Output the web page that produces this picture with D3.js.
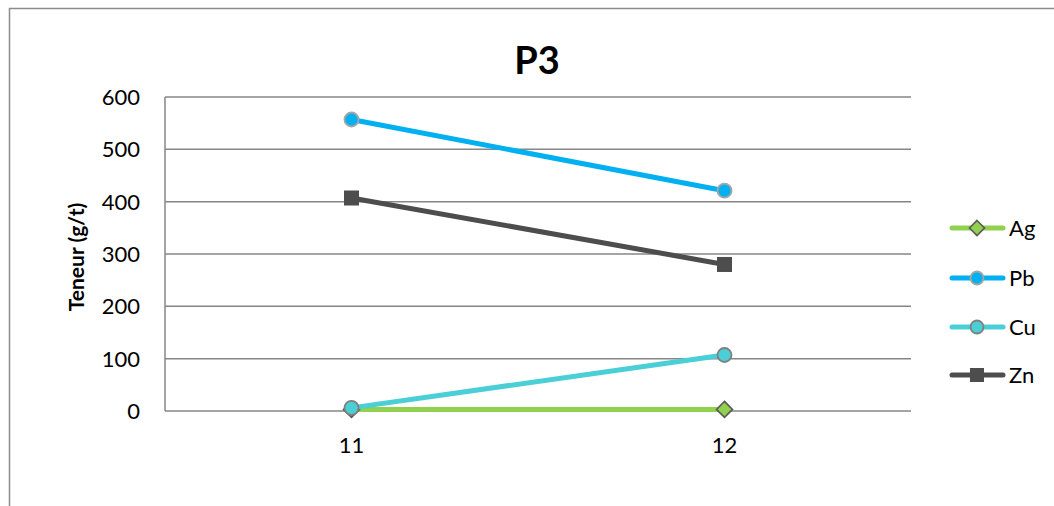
<!DOCTYPE html>
<html>
<head>
<meta charset="utf-8">
<script src="https://cdn.jsdelivr.net/npm/d3@7"></script>
<style>
  html, body { margin: 0; padding: 0; background: #fff; }
  svg { display: block; font-family: Lato, "Open Sans", sans-serif; }
</style>
</head>
<body>
<svg id="chart" width="1054" height="506"></svg>
<script>
// Sample depths (categories) and element grades in g/t
const categories = ["11", "12"];
const agValues = [3, 3];
const pbValues = [557, 421];
const cuValues = [6, 107];
const znValues = [407, 280];
const yTicks = [0, 100, 200, 300, 400, 500, 600];
const seriesNames = ["Ag", "Pb", "Cu", "Zn"];

const series = [
  { name: seriesNames[0], values: agValues, color: "#92D050", marker: "diamond", fill: "#92D050", stroke: "#595959" },
  { name: seriesNames[1], values: pbValues, color: "#00B0F0", marker: "circle", fill: "#00B0F0", stroke: "#A6A6A6" },
  { name: seriesNames[2], values: cuValues, color: "#4BCFD6", marker: "circle", fill: "#4BCFD6", stroke: "#808080" },
  { name: seriesNames[3], values: znValues, color: "#4D4D4D", marker: "square", fill: "#4D4D4D", stroke: "#4D4D4D" }
];

const svg = d3.select("#chart");

// Outer chart frame
svg.append("rect")
  .attr("x", 9.5).attr("y", 8.5)
  .attr("width", 1100).attr("height", 600)
  .attr("fill", "#fff").attr("stroke", "#8C8C8C").attr("stroke-width", 1.5);

const plot = { left: 165, right: 911, top: 97, bottom: 411 };

const x = d3.scaleBand().domain(categories).range([plot.left, plot.right]);
const y = d3.scaleLinear().domain([0, 600]).range([plot.bottom, plot.top]);

// Horizontal gridlines
svg.append("g")
  .selectAll("line")
  .data(yTicks)
  .join("line")
  .attr("x1", plot.left).attr("x2", plot.right)
  .attr("y1", d => y(d)).attr("y2", d => y(d))
  .attr("stroke", "#868686").attr("stroke-width", 1.5);

// Y axis line
svg.append("line")
  .attr("x1", plot.left).attr("x2", plot.left)
  .attr("y1", plot.top).attr("y2", plot.bottom)
  .attr("stroke", "#868686").attr("stroke-width", 1.5);

// Y tick labels
svg.append("g")
  .selectAll("text")
  .data(yTicks)
  .join("text")
  .attr("x", plot.left - 25).attr("y", d => y(d))
  .attr("dy", "0.36em")
  .attr("text-anchor", "end")
  .attr("font-size", 22)
  .attr("fill", "#000")
  .text(d => d);

// X tick labels
svg.append("g")
  .selectAll("text")
  .data(categories)
  .join("text")
  .attr("x", d => x(d) + x.bandwidth() / 2)
  .attr("y", plot.bottom + 42)
  .attr("text-anchor", "middle")
  .attr("font-size", 22)
  .attr("fill", "#000")
  .text(d => d);

// Y axis title
svg.append("text")
  .attr("transform", `translate(84,${(plot.top + plot.bottom) / 2 + 3}) rotate(-90)`)
  .attr("text-anchor", "middle")
  .attr("font-size", 21)
  .attr("font-weight", "bold")
  .text("Teneur (g/t)");

// Chart title
svg.append("text")
  .attr("x", 537).attr("y", 74)
  .attr("text-anchor", "middle")
  .attr("font-size", 38)
  .attr("font-weight", "bold")
  .text("P3");

function drawMarker(g, type, cx, cy, s, size) {
  if (type === "circle") {
    g.append("circle").attr("cx", cx).attr("cy", cy).attr("r", size)
      .attr("fill", s.fill).attr("stroke", s.stroke).attr("stroke-width", 1.8);
  } else if (type === "square") {
    g.append("rect").attr("x", cx - size).attr("y", cy - size)
      .attr("width", size * 2).attr("height", size * 2)
      .attr("fill", s.fill).attr("stroke", s.stroke);
  } else {
    const d = size + 1;
    g.append("path")
      .attr("d", `M${cx},${cy - d}L${cx + d},${cy}L${cx},${cy + d}L${cx - d},${cy}Z`)
      .attr("fill", s.fill).attr("stroke", s.stroke).attr("stroke-width", 1.6);
  }
}

const line = d3.line()
  .x((d, i) => x(categories[i]) + x.bandwidth() / 2)
  .y(d => y(d));

// Series lines and markers
series.forEach(s => {
  const g = svg.append("g");
  g.append("path")
    .datum(s.values)
    .attr("d", line)
    .attr("fill", "none")
    .attr("stroke", s.color)
    .attr("stroke-width", 5)
    .attr("stroke-linecap", "round");
  s.values.forEach((v, i) => {
    drawMarker(g, s.marker, x(categories[i]) + x.bandwidth() / 2, y(v), s, 7);
  });
});

// Legend
const legendY = [228, 278, 327, 375];
series.forEach((s, i) => {
  const g = svg.append("g");
  const ly = legendY[i];
  g.append("line")
    .attr("x1", 952).attr("x2", 1003)
    .attr("y1", ly).attr("y2", ly)
    .attr("stroke", s.color).attr("stroke-width", 5)
    .attr("stroke-linecap", "round");
  drawMarker(g, s.marker, 977, ly, s, 6.5);
  g.append("text")
    .attr("x", 1009).attr("y", ly)
    .attr("dy", "0.36em")
    .attr("font-size", 22)
    .text(s.name);
});
</script>
</body>
</html>
